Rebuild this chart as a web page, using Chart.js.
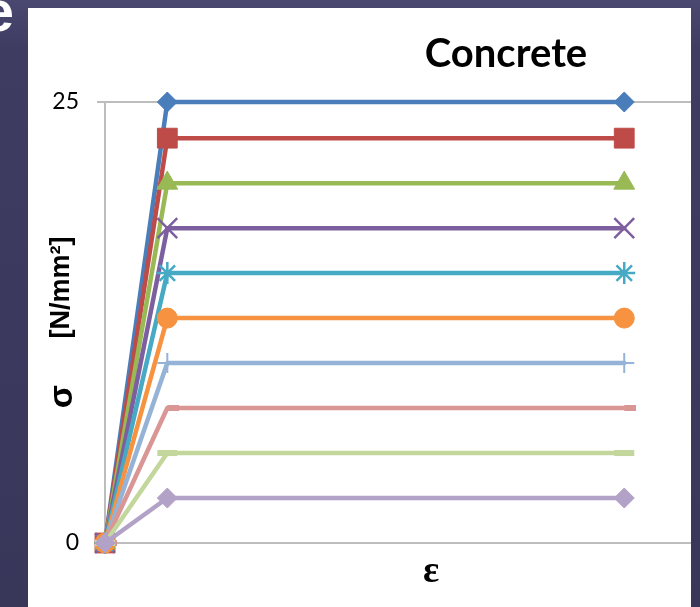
<!DOCTYPE html>
<html>
<head>
<meta charset="utf-8">
<title>Concrete</title>
<script src="https://cdn.jsdelivr.net/npm/chart.js@4/dist/chart.umd.min.js"></script>
<style>
  html, body { margin: 0; padding: 0; background: #3b3a5c; overflow: hidden; }
  #wrap { position: relative; width: 700px; height: 607px; }
</style>
</head>
<body>
<div id="wrap"><canvas id="chart" width="700" height="607"></canvas></div>
<script>
// Strain points of the idealised stress-strain curves (per mille)
const strain = [0, 0.42, 3.5];
const strainMax = 3.95;
// Plateau stress of each curve [N/mm²]
const stressLevels = [25, 22.95, 20.4, 17.85, 15.3, 12.75, 10.2, 7.65, 5.1, 2.55];
const yTicks = [0, 25];
const seriesColors = ['#4A7EBB', '#BE4B48', '#98B954', '#7D5FA0', '#46AAC5',
                      '#F69240', '#95B3D7', '#D99694', '#C3D69B', '#B3A2C7'];
const chartTitle = 'Concrete';
const xTitle = 'ε';
const yTitleSymbol = 'σ';
const yTitleUnit = '[N/mm²]';
const slideTitleTail = 'e';

// Short dash marker that sits on the right side of its point
function dashMarker(color) {
  const c = document.createElement('canvas');
  c.width = 24; c.height = 6;
  const g = c.getContext('2d');
  g.fillStyle = color;
  g.fillRect(12, 0, 12, 6);
  return c;
}

const markers = [
  { style: 'rectRot',  r: 10, bw: 1 },
  { style: 'rect',     r: 14, bw: 1 },
  { style: 'triangle', r: 12, bw: 1 },
  { style: 'crossRot', r: 14, bw: 2.5 },
  { style: 'star',     r: 11, bw: 2.5 },
  { style: 'circle',   r: 10, bw: 1 },
  { style: 'cross',    r: 10, bw: 2 },
  { style: null,       r: 10, bw: 0 },
  { style: 'line',     r: 10, bw: 6 },
  { style: 'rectRot',  r: 10, bw: 1 }
];

const datasets = stressLevels.map((s, i) => {
  const m = markers[i];
  const col = seriesColors[i];
  return {
    label: 'fc ' + s,
    data: strain.map((e, k) => ({ x: e, y: k === 0 ? 0 : s })),
    borderColor: col,
    backgroundColor: col,
    borderWidth: 4.5,
    borderJoinStyle: 'round',
    borderCapStyle: 'round',
    pointStyle: m.style === null ? dashMarker(col) : m.style,
    pointRadius: m.r,
    pointBorderWidth: m.bw,
    pointBorderColor: col,
    pointBackgroundColor: col,
    tension: 0,
    clip: false,
    order: stressLevels.length - 1 - i
  };
});

// Slide backdrop, white chart panel and free-standing labels
const backdrop = {
  id: 'backdrop',
  beforeDraw(chart) {
    const { ctx, width, height } = chart;
    ctx.save();
    const g = ctx.createLinearGradient(0, 0, 0, height);
    g.addColorStop(0, '#4a4870');
    g.addColorStop(0.08, '#3e3c61');
    g.addColorStop(1, '#38375a');
    ctx.fillStyle = g;
    ctx.fillRect(0, 0, width, height);
    ctx.fillStyle = '#ffffff';
    ctx.fillRect(28, 8, 663, height - 8);
    ctx.font = 'bold 58px "Liberation Sans"';
    ctx.textAlign = 'right';
    ctx.textBaseline = 'alphabetic';
    ctx.fillStyle = '#ffffff';
    ctx.fillText(slideTitleTail, 14, 31);
    ctx.restore();
  },
  afterDraw(chart) {
    const { ctx, chartArea } = chart;
    const midY = (chartArea.top + chartArea.bottom) / 2;
    ctx.save();
    ctx.fillStyle = '#000000';
    // chart title
    ctx.font = 'bold 40px Lato';
    ctx.textAlign = 'center';
    ctx.textBaseline = 'alphabetic';
    ctx.fillText(chartTitle, 506, 67);
    // x axis title
    ctx.font = 'bold 38px "Liberation Serif"';
    ctx.textBaseline = 'middle';
    ctx.fillText(xTitle, 431, 572);
    // y axis title (rotated)
    ctx.translate(62, midY);
    ctx.rotate(-Math.PI / 2);
    ctx.font = 'bold 27px "Liberation Sans"';
    ctx.fillText(yTitleUnit, 35, 0);
    ctx.font = 'bold 34px "Liberation Sans"';
    ctx.fillText(yTitleSymbol, -74, 1);
    ctx.restore();
  }
};

new Chart(document.getElementById('chart'), {
  type: 'line',
  data: { datasets },
  plugins: [backdrop],
  options: {
    responsive: false,
    animation: false,
    layout: { autoPadding: false, padding: { left: 24, right: 9, top: 102, bottom: 64 } },
    plugins: { legend: { display: false }, tooltip: { enabled: false }, title: { display: false } },
    scales: {
      x: { type: 'linear', min: 0, max: strainMax, display: false },
      y: {
        type: 'linear',
        min: 0,
        max: 25,
        afterBuildTicks: s => { s.ticks = yTicks.map(v => ({ value: v })); },
        afterFit: s => { s.width = 81; },
        ticks: { padding: 18, color: '#000000', font: { family: 'Lato', size: 23 } },
        grid: { color: '#BDBDBD', lineWidth: 2, tickLength: 8, drawTicks: true },
        border: { color: '#BDBDBD', width: 2 }
      }
    }
  }
});
</script>
</body>
</html>
